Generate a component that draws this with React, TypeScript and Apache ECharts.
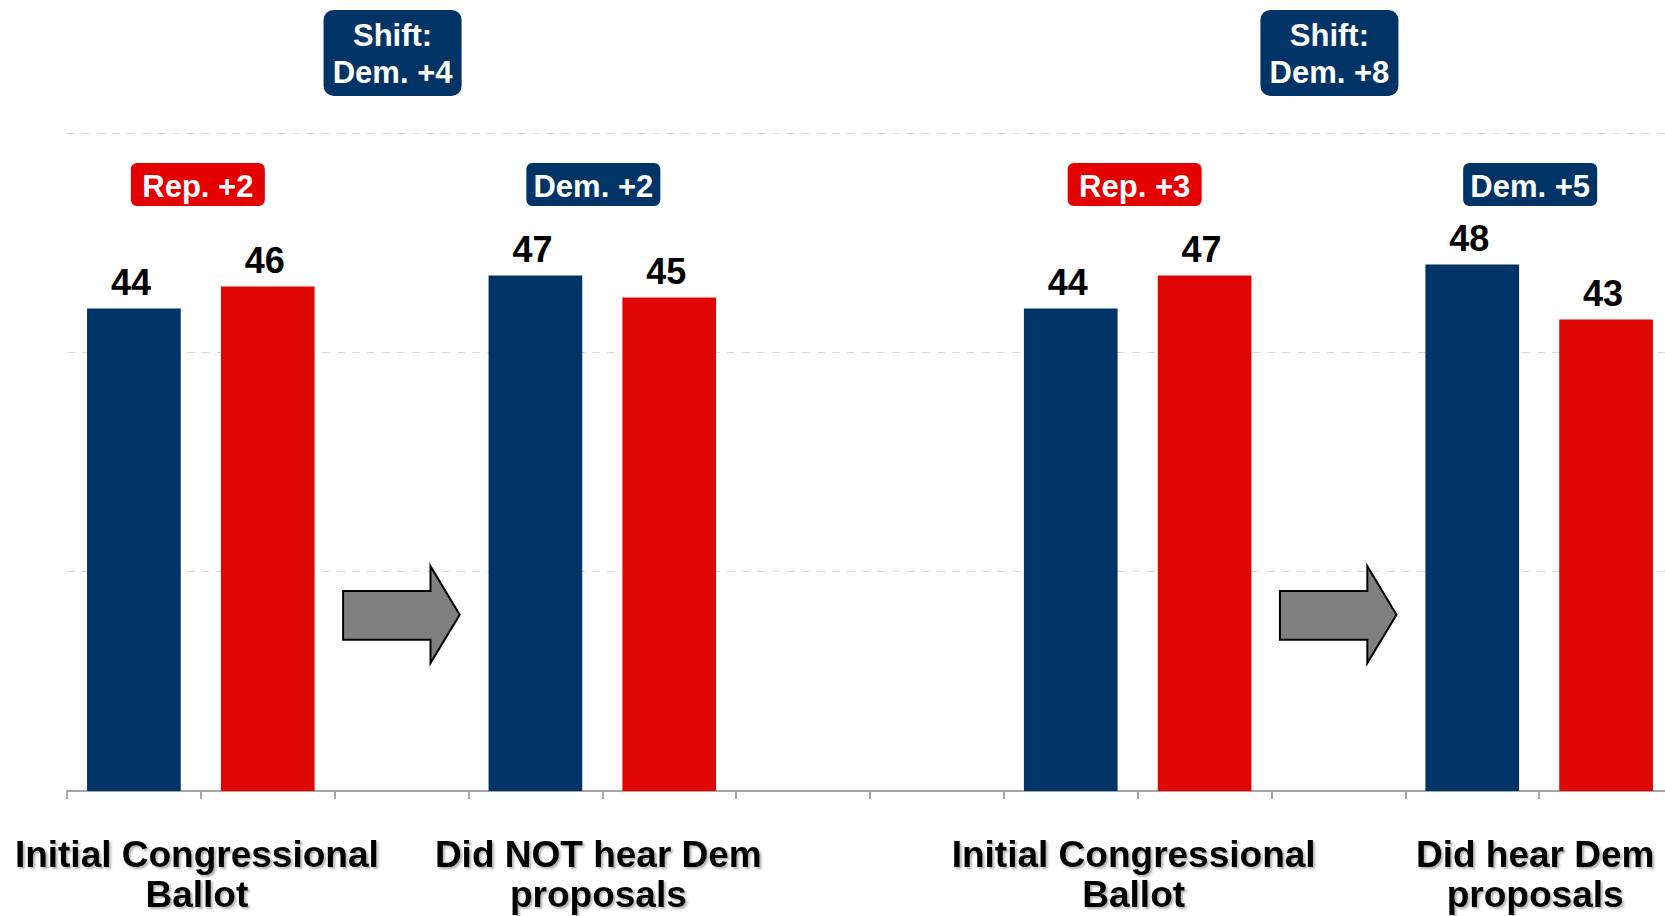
import React, { useEffect, useRef } from "react";
import * as echarts from "echarts";

// ---- data ----
const groupLabels = [
  "Initial Congressional\nBallot",
  "Did NOT hear Dem\nproposals",
  "Initial Congressional\nBallot",
  "Did hear Dem\nproposals",
];
const demShare = [44, 47, 44, 48];
const repShare = [46, 45, 47, 43];
const marginLabels = ["Rep. +2", "Dem. +2", "Rep. +3", "Dem. +5"];
const marginLeader = ["Rep", "Dem", "Rep", "Dem"];
const shiftLabels = ["Shift:\nDem. +4", "Shift:\nDem. +8"];
const yTicks = [0, 20, 40, 60];

// ---- layout (slot indices on the category axis) ----
const SLOT_COUNT = 12;
const groupSlot = [0, 3, 7, 10];
const arrowSlot = [2, 9];

const DEM = "#003366";
const REP = "#DF0606";
const REP_BADGE = "#E50000";
const FONT = '"Liberation Sans", Arial, Helvetica, sans-serif';

const slotNames: string[] = [];
const barData: any[] = [];
for (let i = 0; i < SLOT_COUNT; i++) {
  slotNames.push("slot" + i);
  barData.push("-");
}
groupSlot.forEach((s, i) => {
  const base = groupLabels[i].replace("\n", " ");
  slotNames[s] = base + " (Dem " + i + ")";
  slotNames[s + 1] = base + " (Rep " + i + ")";
  barData[s] = { value: demShare[i], itemStyle: { color: DEM } };
  barData[s + 1] = { value: repShare[i], itemStyle: { color: REP } };
});

export default function App() {
  const ref = useRef<HTMLDivElement>(null);
  useEffect(() => {
    if (!ref.current) return;
    const chart = echarts.init(ref.current, null, { renderer: "svg" });
    chart.setOption({
      animation: false,
      backgroundColor: "#ffffff",
      grid: { left: 67, top: 133, width: 1606, height: 658, outerBoundsMode: "none", containLabel: false },
      xAxis: {
        type: "category",
        data: slotNames,
        axisLine: { show: true, lineStyle: { color: "#A6A6A6", width: 2 } },
        axisTick: { show: true, interval: 0, length: 8, lineStyle: { color: "#A6A6A6", width: 2 } },
        axisLabel: { show: false, interval: 0 },
        splitLine: { show: false },
      },
      yAxis: {
        type: "value",
        min: yTicks[0],
        max: yTicks[yTicks.length - 1],
        interval: yTicks[1] - yTicks[0],
        axisLine: { show: false },
        axisTick: { show: false },
        axisLabel: { show: false },
        splitLine: {
          show: true,
          lineStyle: { color: "#D9D9D9", width: 1, type: [8, 7] },
        },
      },
      series: [
        {
          type: "bar",
          data: barData,
          barWidth: "70%",
          label: {
            show: true,
            position: "top",
            distance: 8,
            offset: [-3, 0],
            color: "#000",
            fontSize: 36,
            fontWeight: "bold",
            fontFamily: FONT,
            formatter: "{c}",
          },
        },
        // arrows
        {
          type: "custom",
          clip: false,
          silent: true,
          data: arrowSlot.map((s) => [s, 16]),
          renderItem: (params: any, api: any) => {
            const slot = api.value(0);
            const cx = api.coord([slot, 0])[0];
            const b = api.size([1, 0])[0];
            const yv = (v: number) => api.coord([slot, v])[1];
            const xl = cx - 0.437 * b;
            const xh = cx + 0.216 * b;
            const xt = cx + 0.434 * b;
            return {
              type: "polygon",
              shape: {
                points: [
                  [xl, yv(18.23)],
                  [xh, yv(18.23)],
                  [xh, yv(20.5)],
                  [xt, yv(16.08)],
                  [xh, yv(11.66)],
                  [xh, yv(13.8)],
                  [xl, yv(13.8)],
                ],
              },
              style: { fill: "#808080", stroke: "#000", lineWidth: 2, lineJoin: "miter" },
            };
          },
        },
        // margin badges
        {
          type: "custom",
          clip: false,
          silent: true,
          data: groupSlot.map((s) => [s, 55.3]),
          renderItem: (params: any, api: any) => {
            const slot = api.value(0);
            const p = api.coord([slot, 55.3]);
            const b = api.size([1, 0])[0];
            const isRep = marginLeader[params.dataIndex] === "Rep";
            const cx = p[0] + b / 2 + (isRep ? -3 : -9);
            const cy = p[1];
            const w = 134;
            const h = 43;
            const color = isRep ? REP_BADGE : DEM;
            return {
              type: "group",
              children: [
                {
                  type: "rect",
                  shape: { x: cx - w / 2, y: cy - h / 2, width: w, height: h, r: 6 },
                  style: { fill: color },
                },
                {
                  type: "text",
                  x: cx,
                  y: cy + 1.5,
                  style: {
                    text: marginLabels[params.dataIndex],
                    fill: "#fff",
                    fontSize: 31,
                    fontWeight: "bold",
                    fontFamily: FONT,
                    align: "center",
                    verticalAlign: "middle",
                    textAlign: "center",
                    textVerticalAlign: "middle",
                  },
                },
              ],
            };
          },
        },
        // shift badges
        {
          type: "custom",
          clip: false,
          silent: true,
          data: arrowSlot.map((s) => [s, 67.3]),
          renderItem: (params: any, api: any) => {
            const slot = api.value(0);
            const p = api.coord([slot, 67.3]);
            const cx = p[0] - 9;
            const cy = p[1];
            const w = 138;
            const h = 86;
            return {
              type: "group",
              children: [
                {
                  type: "rect",
                  shape: { x: cx - w / 2, y: cy - h / 2, width: w, height: h, r: 10 },
                  style: { fill: DEM },
                },
                {
                  type: "text",
                  x: cx,
                  y: cy + 1,
                  style: {
                    text: shiftLabels[params.dataIndex],
                    fill: "#fff",
                    fontSize: 31,
                    fontWeight: "bold",
                    fontFamily: FONT,
                    lineHeight: 37,
                    align: "center",
                    verticalAlign: "middle",
                    textAlign: "center",
                    textVerticalAlign: "middle",
                  },
                },
              ],
            };
          },
        },
        // group labels under the axis
        {
          type: "custom",
          clip: false,
          silent: true,
          data: groupSlot.map((s) => [s, 0]),
          renderItem: (params: any, api: any) => {
            const slot = api.value(0);
            const p = api.coord([slot, 0]);
            const b = api.size([1, 0])[0];
            return {
              type: "text",
              x: p[0] + b / 2 - 4,
              y: p[1] + 43,
              style: {
                text: groupLabels[params.dataIndex],
                fill: "#000",
                fontSize: 37,
                fontWeight: "bold",
                fontFamily: FONT,
                lineHeight: 40,
                align: "center",
                verticalAlign: "top",
                textAlign: "center",
                textVerticalAlign: "top",
                textShadowColor: "rgba(0,0,0,0.3)",
                textShadowBlur: 2,
                textShadowOffsetX: 2,
                textShadowOffsetY: 2,
              },
            };
          },
        },
      ],
    });
    return () => chart.dispose();
  }, []);
  return (
    <div
      ref={ref}
      style={{ position: "absolute", left: 0, top: 0, width: 1665, height: 916, background: "#fff" }}
    />
  );
}
